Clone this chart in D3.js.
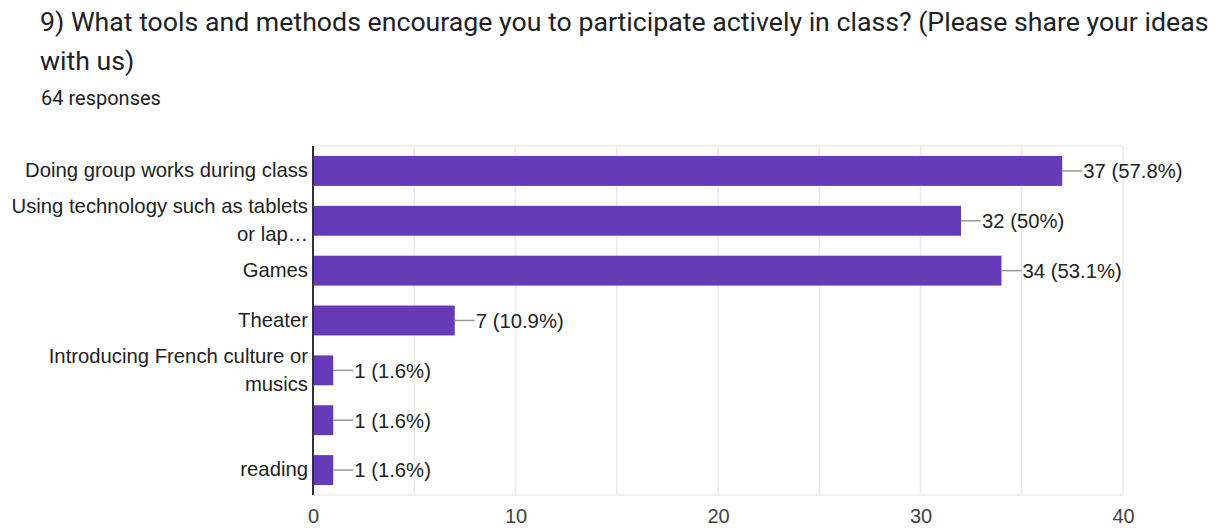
<!DOCTYPE html>
<html>
<head>
<meta charset="utf-8">
<script src="https://cdn.jsdelivr.net/npm/d3@7"></script>
<style>
  body { margin: 0; background: #fff; }
  svg { display: block; }
</style>
</head>
<body>
<div id="chart"></div>
<script>
// chart data
const titleLines = [
    "9) What tools and methods encourage you to participate actively in class? (Please share your ideas",
    "with us)"
];
const totalResponses = 64;
const categories = [
    ["Doing group works during class"],
    ["Using technology such as tablets", "or lap\u2026"],
    ["Games"],
    ["Theater"],
    ["Introducing French culture or", "musics"],
    [""],
    ["reading"]
];
const counts = [37, 32, 34, 7, 1, 1, 1];
const xTicks = [0, 10, 20, 30, 40];
const gridTicks = [5, 10, 15, 20, 25, 30, 35, 40];

const width = 1223, height = 528;
const margin = { top: 146, right: 100, bottom: 33, left: 313 };
const innerW = width - margin.left - margin.right;
const innerH = height - margin.top - margin.bottom;
const labelFont = "'Liberation Sans', Arial, sans-serif";

const svg = d3.select("#chart")
    .append("svg")
    .attr("width", width)
    .attr("height", height);

// Title and response count
svg.selectAll("text.title")
    .data(titleLines)
    .enter()
    .append("text")
    .attr("class", "title")
    .attr("x", 40)
    .attr("y", (d, i) => 31 + i * 39)
    .style("font-family", "Roboto, sans-serif")
    .style("font-size", "26.7px")
    .style("fill", "#202124")
    .text(d => d);

svg.append("text")
    .attr("x", 41)
    .attr("y", 105)
    .style("font-family", "Roboto, sans-serif")
    .style("font-size", "20px")
    .style("fill", "#202124")
    .text(totalResponses + " responses");

const g = svg.append("g")
    .attr("transform", `translate(${margin.left},${margin.top})`);

const x = d3.scaleLinear()
    .domain([0, 40])
    .range([0, innerW]);

const y = d3.scaleBand()
    .domain(d3.range(categories.length))
    .range([0, innerH])
    .paddingInner(0.4)
    .paddingOuter(0.2);

// Gridlines
g.selectAll("line.grid")
    .data(gridTicks)
    .enter()
    .append("line")
    .attr("class", "grid")
    .attr("x1", d => x(d))
    .attr("x2", d => x(d))
    .attr("y1", 0)
    .attr("y2", innerH)
    .style("stroke", "#ebebeb")
    .style("stroke-width", 1.5);

// top and bottom plot border
[0, innerH].forEach(yy => {
    g.append("line")
        .attr("x1", 0)
        .attr("x2", innerW)
        .attr("y1", yy)
        .attr("y2", yy)
        .style("stroke", "#ebebeb")
        .style("stroke-width", 1.5);
});

// Bars
g.selectAll("rect.bar")
    .data(counts)
    .enter()
    .append("rect")
    .attr("class", "bar")
    .attr("x", x(0))
    .attr("y", (d, i) => y(i))
    .attr("width", d => x(d) - x(0))
    .attr("height", y.bandwidth())
    .style("fill", "#673ab7");

// Value labels with leader lines
const pct = v => {
    const p = v / totalResponses * 100;
    return (Math.round(p * 10) / 10).toString() + "%";
};

g.selectAll("line.leader")
    .data(counts)
    .enter()
    .append("line")
    .attr("class", "leader")
    .attr("x1", d => x(d))
    .attr("x2", d => x(d) + 20)
    .attr("y1", (d, i) => y(i) + y.bandwidth() / 2)
    .attr("y2", (d, i) => y(i) + y.bandwidth() / 2)
    .style("stroke", "#999")
    .style("stroke-width", 1.5);

g.selectAll("text.value")
    .data(counts)
    .enter()
    .append("text")
    .attr("class", "value")
    .attr("x", d => x(d) + 21)
    .attr("y", (d, i) => y(i) + y.bandwidth() / 2)
    .attr("dy", "0.36em")
    .style("font-family", labelFont)
    .style("font-size", "20.3px")
    .style("fill", "#222")
    .text(d => `${d} (${pct(d)})`);

// Category labels (wrapped)
const labels = g.selectAll("text.cat")
    .data(categories)
    .enter()
    .append("text")
    .attr("class", "cat")
    .attr("text-anchor", "end")
    .attr("x", -5)
    .attr("y", (d, i) => y(i) + y.bandwidth() / 2)
    .style("font-family", labelFont)
    .style("font-size", "20.3px")
    .style("fill", "#222");

labels.each(function (lines) {
    const t = d3.select(this);
    const lh = 28;
    lines.forEach((line, j) => {
        t.append("tspan")
            .attr("x", -5)
            .attr("dy", j === 0 ? ((0.36 * 20.3) - (lines.length - 1) * lh / 2 - 1) + "px" : lh + "px")
            .text(line);
    });
});

// X axis tick labels
const xAxis = d3.axisBottom(x)
    .tickValues(xTicks)
    .tickSize(0)
    .tickPadding(14);

const xg = g.append("g")
    .attr("transform", `translate(0,${innerH})`)
    .call(xAxis);
xg.select(".domain").remove();
xg.selectAll("text")
    .style("font-family", labelFont)
    .style("font-size", "20px")
    .style("fill", "#444");

// Left axis line
g.append("line")
    .attr("x1", 0)
    .attr("x2", 0)
    .attr("y1", 0)
    .attr("y2", innerH)
    .style("stroke", "#333")
    .style("stroke-width", 2);
</script>
</body>
</html>
